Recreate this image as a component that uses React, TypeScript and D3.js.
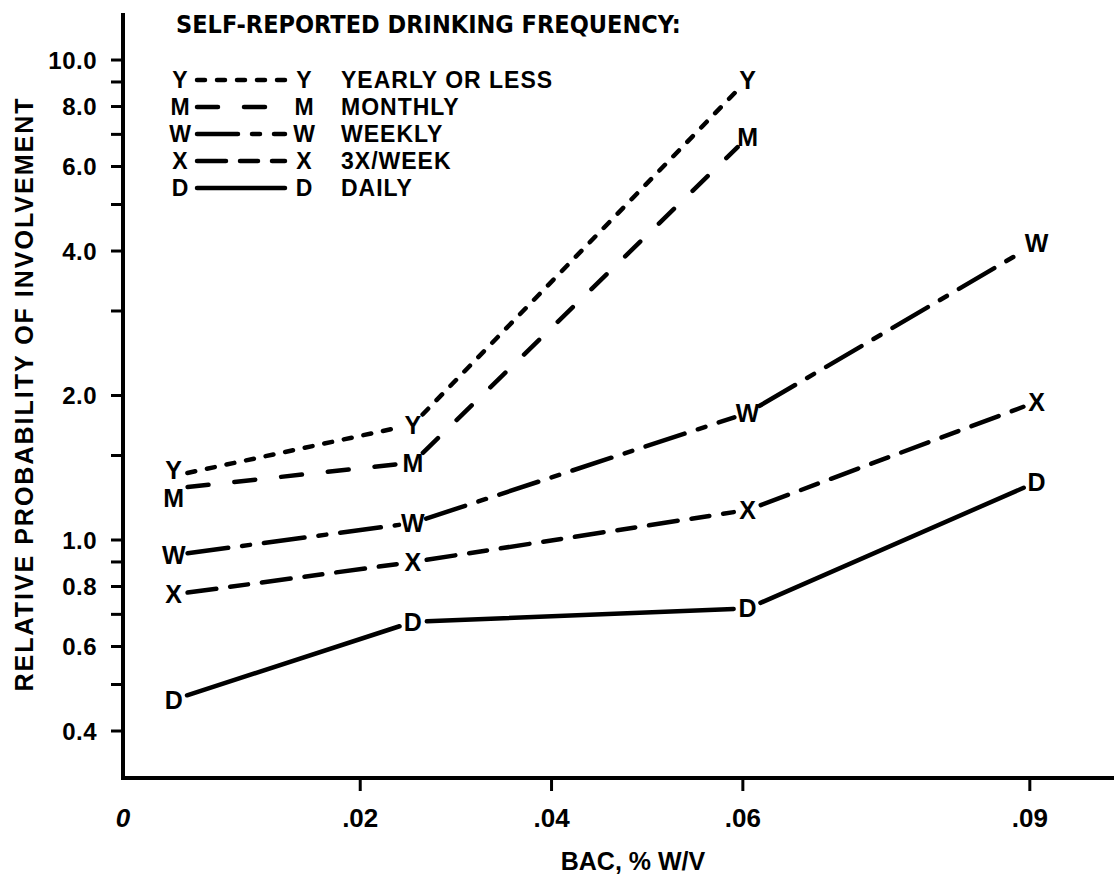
import React from 'react';
import * as d3 from 'd3';

const WIDTH = 1114;
const HEIGHT = 880;

// BAC (% w/v) of each measured group
const bacLevels = [0.0005, 0.0255, 0.0605, 0.0907];

// Relative probability of crash involvement, by self-reported drinking frequency
const seriesKeys = ['Y', 'M', 'W', 'X', 'D'];
const seriesNames = ['YEARLY OR LESS', 'MONTHLY', 'WEEKLY', '3X/WEEK', 'DAILY'];
const yearly = [1.36, 1.74, 9.1];
const monthly = [1.28, 1.45, 6.9];
const weekly = [0.93, 1.085, 1.84, 4.15];
const threePerWeek = [0.77, 0.9, 1.155, 1.94];
const daily = [0.465, 0.675, 0.72, 1.32];

const yMajorTicks = [0.4, 0.6, 0.8, 1, 2, 4, 6, 8, 10];
const yMinorTicks = [0.5, 0.7, 0.9, 1.5, 3, 5, 7, 9];
const xTicks = [0.02, 0.04, 0.06, 0.09];
const xTickLabels = ['.02', '.04', '.06', '.09'];

const legendTitle = 'SELF-REPORTED DRINKING FREQUENCY:';
const xTitle = 'BAC, % W/V';
const yTitle = 'RELATIVE PROBABILITY OF INVOLVEMENT';

const FONT = "'Liberation Sans', Arial, Helvetica, sans-serif";
const NARROW = "'Liberation Sans Narrow', 'DejaVu Sans Condensed', 'Liberation Sans', sans-serif";

// line styles per series
const dashes: Record<string, string | undefined> = {
  Y: '8 12',
  M: '21 26',
  W: '41 14 8 14',
  X: '29 14 18 14',
  D: undefined,
};

// small vertical nudges where two letters would collide
const letterNudge: Record<string, number[]> = {
  Y: [-6, 0, 0],
  M: [9, 0, 0],
};

const plot = { left: 123, right: 1114, top: 13, bottom: 778 };

export default function App() {
  const values = [yearly, monthly, weekly, threePerWeek, daily];

  const x = d3.scaleLinear().domain([-0.0048, 0.0988]).range([plot.left, plot.right]);
  const y = d3.scaleLog().domain([0.3208, 12.53]).range([plot.bottom - 1, plot.top]);
  const line = d3.line<[number, number]>();
  const fmt = d3.format('.1f');

  const GAP = 14;
  const segments: { key: string; d: string }[] = [];
  values.forEach((vals, si) => {
    const key = seriesKeys[si];
    for (let i = 0; i < vals.length - 1; i++) {
      const x0 = x(bacLevels[i]);
      const y0 = y(vals[i]);
      const x1 = x(bacLevels[i + 1]);
      const y1 = y(vals[i + 1]);
      const len = Math.hypot(x1 - x0, y1 - y0);
      const ux = (x1 - x0) / len;
      const uy = (y1 - y0) / len;
      const d = line([
        [x0 + ux * GAP, y0 + uy * GAP],
        [x1 - ux * GAP, y1 - uy * GAP],
      ]) as string;
      segments.push({ key, d });
    }
  });

  const legendX = { left: 180, lineStart: 197, lineEnd: 285, right: 304, text: 341 };
  const legendRowY = (i: number) => 80 + i * 27;
  const LEGEND_SIZE = 23;

  return (
    <svg
      width={WIDTH}
      height={HEIGHT}
      viewBox={`0 0 ${WIDTH} ${HEIGHT}`}
      style={{ position: 'absolute', left: 0, top: 0, background: '#fff' }}
    >
      <rect width={WIDTH} height={HEIGHT} fill="#fff" />

      {/* axes */}
      <path
        d={`M${plot.left},${plot.top} V${plot.bottom} H${plot.right}`}
        fill="none"
        stroke="#000"
        strokeWidth={4}
      />
      {[...yMajorTicks, ...yMinorTicks].map((t) => (
        <line key={'yt' + t} x1={plot.left - 12} x2={plot.left} y1={y(t)} y2={y(t)} stroke="#000" strokeWidth={3} />
      ))}
      {yMajorTicks.map((t) => (
        <text
          key={'yl' + t}
          x={97}
          y={y(t)}
          dy="0.36em"
          textAnchor="end"
          fontFamily={FONT}
          fontWeight="bold"
          fontSize={24}
          letterSpacing={0.5}
        >
          {fmt(t)}
        </text>
      ))}
      {xTicks.map((t, i) => (
        <g key={'xt' + t}>
          <line x1={x(t)} x2={x(t)} y1={plot.bottom} y2={plot.bottom + 13} stroke="#000" strokeWidth={3} />
          <text
            x={x(t)}
            y={818}
            dy="0.36em"
            textAnchor="middle"
            fontFamily={FONT}
            fontWeight="bold"
            fontSize={26}
          >
            {xTickLabels[i]}
          </text>
        </g>
      ))}
      <text
        x={plot.left}
        y={818}
        dy="0.36em"
        textAnchor="middle"
        fontFamily={FONT}
        fontWeight="bold"
        fontStyle="italic"
        fontSize={26}
      >
        0
      </text>

      {/* axis titles */}
      <text
        x={633}
        y={861}
        dy="0.36em"
        textAnchor="middle"
        fontFamily={FONT}
        fontWeight="bold"
        fontSize={25}
      >
        {xTitle}
      </text>
      <text
        transform={`translate(33,394) rotate(-90)`}
        textAnchor="middle"
        fontFamily={FONT}
        fontWeight="bold"
        fontSize={25}
        letterSpacing={2}
      >
        {yTitle}
      </text>

      {/* series lines */}
      {segments.map((s, i) => (
        <path
          key={'seg' + i}
          d={s.d}
          fill="none"
          stroke="#000"
          strokeWidth={4.5}
          strokeLinecap="round"
          strokeDasharray={dashes[s.key]}
        />
      ))}

      {/* point letters */}
      {values.map((vals, si) =>
        vals.map((v, i) => {
          const key = seriesKeys[si];
          const nudge = letterNudge[key] ? letterNudge[key][i] || 0 : 0;
          return (
            <text
              key={key + i}
              x={x(bacLevels[i])}
              y={y(v) + nudge}
              dy="0.36em"
              textAnchor="middle"
              fontFamily={FONT}
              fontWeight="bold"
              fontSize={25}
            >
              {key}
            </text>
          );
        })
      )}

      {/* legend */}
      <text x={176} y={24} dy="0.36em" fontFamily={NARROW} fontWeight="bold" fontSize={25}>
        {legendTitle}
      </text>
      {seriesKeys.map((key, i) => {
        const ry = legendRowY(i);
        return (
          <g key={'lg' + key}>
            <text x={legendX.left} y={ry} dy="0.36em" textAnchor="middle" fontFamily={FONT} fontWeight="bold" fontSize={LEGEND_SIZE}>
              {key}
            </text>
            <line
              x1={legendX.lineStart}
              x2={legendX.lineEnd}
              y1={ry}
              y2={ry}
              stroke="#000"
              strokeWidth={4.5}
              strokeLinecap="round"
              strokeDasharray={dashes[key]}
            />
            <text x={legendX.right} y={ry} dy="0.36em" textAnchor="middle" fontFamily={FONT} fontWeight="bold" fontSize={LEGEND_SIZE}>
              {key}
            </text>
            <text x={legendX.text} y={ry} dy="0.36em" fontFamily={FONT} fontWeight="bold" fontSize={LEGEND_SIZE} letterSpacing={1}>
              {seriesNames[i]}
            </text>
          </g>
        );
      })}
    </svg>
  );
}
